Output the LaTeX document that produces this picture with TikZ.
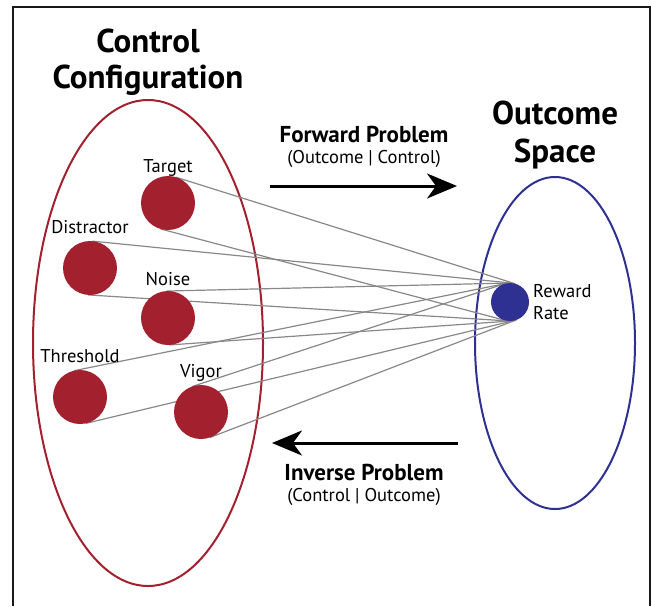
\documentclass[tikz,border=0pt]{standalone}
\usepackage{fontspec}
\setmainfont{PT Sans}
\usetikzlibrary{arrows.meta,calc}
\definecolor{cred}{HTML}{A3202F}
\definecolor{cblue}{HTML}{2E3192}
\definecolor{cgray}{HTML}{888888}
\tikzset{
  frame/.style={line width=2.2pt, black!90},
  redell/.style={draw=cred, line width=2pt},
  blueell/.style={draw=cblue, line width=2pt},
  ctrl/.style={circle, fill=cred, minimum size=54pt, inner sep=0pt},
  rdot/.style={circle, fill=cblue, minimum size=38pt, inner sep=0pt},
  conn/.style={draw=cgray, line width=1.2pt},
  title/.style={font=\fontsize{33}{38}\selectfont\bfseries, anchor=base, inner sep=0pt},
  lab/.style={font=\fontsize{18.5}{22}\selectfont, anchor=base, inner sep=0pt},
  probtitle/.style={font=\fontsize{23}{27}\selectfont\bfseries, anchor=base, inner sep=0pt},
  probsub/.style={font=\fontsize{18.5}{22}\selectfont, anchor=base, inner sep=0pt},
  bigarrow/.style={line width=3pt, -{Stealth[length=30pt,width=25pt,inset=9pt]}},
}
\begin{document}
\begin{tikzpicture}[x=1pt,y=-1pt]
\useasboundingbox (0,0) rectangle (652,606);
% frame
\draw[frame] (13,606) -- (13,7) -- (650,7) -- (650,606);
% titles
\node[title] (ct1) at (148,52) {Control};
\node[title] (ct2) at (148,88) {Configuration};
\node[title] (ot1) at (555,124) {Outcome};
\node[title] (ot2) at (555,162) {Space};
% ellipses
\draw[redell] (148,343) ellipse [x radius=115, y radius=243];
\draw[blueell] (555,343) ellipse [x radius=80, y radius=166];
% node positions
\coordinate (tP) at (168,203);
\coordinate (dP) at (90,268);
\coordinate (nP) at (168,318);
\coordinate (hP) at (80,397);
\coordinate (vP) at (201,412);
\coordinate (rP) at (510,302);
% connectors (outer tangents)
\foreach \c in {tP,dP,nP,hP,vP}{
  \draw[conn] ($(\c)!27pt!90:(rP)$) -- ($(rP)!19pt!-90:(\c)$);
  \draw[conn] ($(\c)!27pt!-90:(rP)$) -- ($(rP)!19pt!90:(\c)$);
}
% circles
\node[ctrl] (t) at (tP) {};
\node[ctrl] (d) at (dP) {};
\node[ctrl] (n) at (nP) {};
\node[ctrl] (h) at (hP) {};
\node[ctrl] (v) at (vP) {};
\node[rdot] (r) at (rP) {};
% labels
\node[lab] (tl) at (168,172) {Target};
\node[lab] (dl) at (90,233) {Distractor};
\node[lab] (nl) at (168,285) {Noise};
\node[lab] (hl) at (80,362) {Threshold};
\node[lab] (vl) at (201,377) {Vigor};
\node[lab, anchor=base west] (rl1) at (533,297) {Reward};
\node[lab, anchor=base west] (rl2) at (533,319) {Rate};
% problems
\node[probtitle] (fp) at (364,142) {Forward Problem};
\node[probsub] (fps) at (364,163) {(Outcome | Control)};
\coordinate (fs) at (270,186);
\coordinate (fe) at (457,186);
\draw[bigarrow] (fs) -- (fe);
\coordinate (is) at (458,443);
\coordinate (ie) at (272,443);
\draw[bigarrow] (is) -- (ie);
\node[probtitle] (ip) at (364,480) {Inverse Problem};
\node[probsub] (ips) at (364,501) {(Control | Outcome)};
\end{tikzpicture}
\end{document}
